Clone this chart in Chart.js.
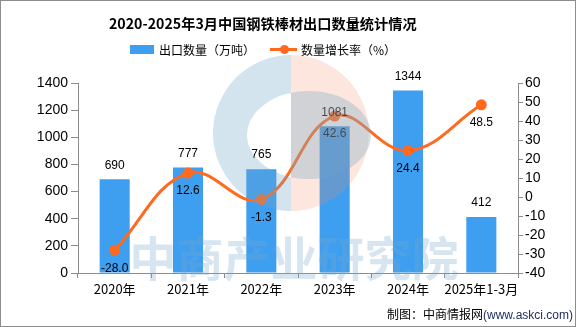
<!DOCTYPE html>
<html>
<head>
<meta charset="utf-8">
<script src="https://cdn.jsdelivr.net/npm/chart.js@4.4.0/dist/chart.umd.min.js"></script>
<style>
  body { margin: 0; background: #fff; }
  #wrap { position: relative; width: 576px; height: 327px; box-sizing: border-box; border: 1px solid #8c8c8c; overflow: hidden; font-family: "Noto Sans CJK SC", sans-serif; }
  #wrap canvas { position: absolute; left: 0; top: 0; }
  .title { position: absolute; left: 108px; top: 12px; font-size: 14.2px; font-weight: bold; color: #000; z-index: 2; white-space: nowrap; }
  .leg { position: absolute; top: 40px; font-size: 12px; color: #000; z-index: 2; line-height: 17px; }
  .sw { position: absolute; }
  .foot { position: absolute; left: 386px; top: 304px; font-size: 12px; color: #000; z-index: 2; white-space: nowrap; }
  .foot span { font-family: "Liberation Sans", sans-serif; color: #1a2a5a; }
</style>
</head>
<body>
<div id="wrap">
  <canvas id="c" width="576" height="327"></canvas>
  <div class="title">2020-2025年3月中国钢铁棒材出口数量统计情况</div>
  <div class="sw" style="left:129px;top:44px;width:24px;height:9px;background:#3e9ef0;z-index:2"></div>
  <div class="leg" style="left:158px">出口数量（万吨）</div>
  <div class="sw" style="left:269px;top:47px;width:27px;height:3px;background:#ff6a1e;z-index:2"></div>
  <div class="sw" style="left:279px;top:44px;width:9px;height:9px;border-radius:50%;background:#ff6a1e;z-index:2"></div>
  <div class="leg" style="left:300px">数量增长率（%）</div>
  <div class="foot">制图：中商情报网<span>(www.askci.com)</span></div>
</div>
<script>
const categories = ['2020年', '2021年', '2022年', '2023年', '2024年', '2025年1-3月'];
const exportVolume = [690, 777, 765, 1081, 1344, 412];
const growthRate = [-28.0, 12.6, -1.3, 42.6, 24.4, 48.5];
const growthLabels = ['-28.0', '12.6', '-1.3', '42.6', '24.4', '48.5'];

const barColor = '#3e9ef0';
const lineColor = '#ff6a1e';
const axisColor = '#8c8c8c';

// draws value labels on bars and under line points
const valueLabels = {
  id: 'valueLabels',
  afterDatasetsDraw(chart) {
    const ctx = chart.ctx;
    ctx.save();
    ctx.font = '12px "Liberation Sans", sans-serif';
    ctx.fillStyle = '#000';
    ctx.textAlign = 'center';
    ctx.textBaseline = 'middle';
    chart.getDatasetMeta(0).data.forEach((bar, i) => {
      ctx.fillText(String(exportVolume[i]), bar.x, bar.y - 14);
    });
    chart.getDatasetMeta(1).data.forEach((pt, i) => {
      ctx.fillText(growthLabels[i], pt.x, pt.y + 18);
    });
    ctx.restore();
  }
};

// faint logo + text watermark on top of the plot
const watermark = {
  id: 'watermark',
  afterDraw(chart) {
    const ctx = chart.ctx;
    ctx.save();
    const cx = 290, cy = 132, r = 78;
    ctx.fillStyle = 'rgba(240,140,100,0.22)';
    ctx.beginPath();
    ctx.moveTo(cx, cy - r);
    ctx.arc(cx, cy, r, -Math.PI / 2, Math.PI / 2);
    ctx.closePath();
    ctx.fill();
    ctx.fillStyle = 'rgba(110,165,200,0.3)';
    ctx.beginPath();
    ctx.arc(cx, cy, r, -Math.PI / 2, Math.PI / 2, true);
    ctx.lineTo(cx, cy - r);
    ctx.moveTo(cx + 18, cy);
    ctx.ellipse(cx + 18, cy + 2, 62, 44, 0, 0, Math.PI * 2);
    ctx.fill('evenodd');
    ctx.fillStyle = 'rgba(120,170,205,0.3)';
    ctx.font = 'bold 47px "Noto Sans CJK SC", sans-serif';
    ctx.textAlign = 'center';
    ctx.textBaseline = 'middle';
    ctx.fillText('中商产业研究院', 293, 257);
    ctx.restore();
  }
};

new Chart(document.getElementById('c'), {
  data: {
    labels: categories,
    datasets: [
      {
        type: 'bar',
        label: '出口数量（万吨）',
        data: exportVolume,
        backgroundColor: barColor,
        yAxisID: 'y',
        barPercentage: 0.41,
        categoryPercentage: 1,
        order: 2
      },
      {
        type: 'line',
        label: '数量增长率（%）',
        data: growthRate,
        borderColor: lineColor,
        backgroundColor: lineColor,
        borderWidth: 3,
        pointRadius: 4,
        pointHoverRadius: 4,
        tension: 0.4,
        yAxisID: 'y1',
        order: 1
      }
    ]
  },
  options: {
    responsive: false,
    animation: false,
    layout: { padding: { top: 82, left: 0, right: 0, bottom: 0 } },
    plugins: { legend: { display: false }, tooltip: { enabled: false } },
    scales: {
      x: {
        offset: true,
        grid: { display: true, offset: true, drawOnChartArea: false, drawTicks: true, tickLength: 5, color: axisColor },
        border: { color: axisColor, width: 1 },
        ticks: { autoSkip: false, color: '#000', padding: 3, maxRotation: 0, font: { size: 13, family: '"Noto Sans CJK SC", sans-serif' } },
        afterFit(s) { s.height = 55; }
      },
      y: {
        position: 'left',
        min: 0, max: 1400,
        grid: { drawOnChartArea: false, drawTicks: true, tickLength: 7, color: axisColor },
        border: { color: axisColor, width: 1 },
        ticks: { autoSkip: false, stepSize: 200, color: '#000', padding: 3, callback: v => String(v), font: { size: 14, family: '"Liberation Sans", sans-serif' } },
        afterFit(s) { s.width = 77; }
      },
      y1: {
        position: 'right',
        min: -40, max: 60,
        grid: { drawOnChartArea: false, drawTicks: true, tickLength: 5, color: axisColor },
        border: { color: axisColor, width: 1 },
        ticks: { autoSkip: false, stepSize: 10, color: '#000', padding: 2, callback: v => String(v), font: { size: 14, family: '"Liberation Sans", sans-serif' } },
        afterFit(s) { s.width = 59; }
      }
    }
  },
  plugins: [valueLabels, watermark]
});
</script>
</body>
</html>
